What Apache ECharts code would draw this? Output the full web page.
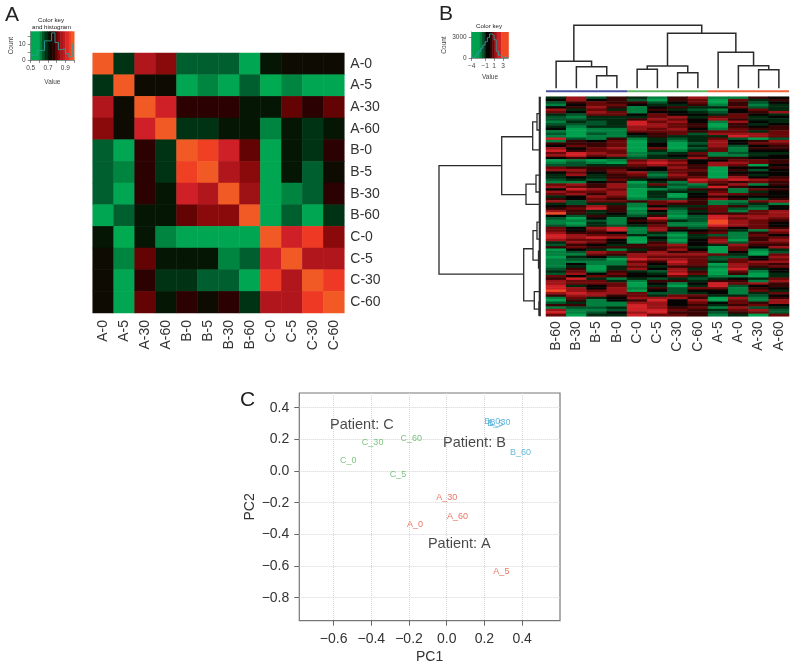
<!DOCTYPE html>
<html><head><meta charset="utf-8"><style>html,body{margin:0;padding:0;background:#fff}#c{width:800px;height:669px}</style>
<script src="https://cdn.jsdelivr.net/npm/echarts@6/dist/echarts.min.js"></script></head>
<body><div id="c"></div><script>
const FONT='"Liberation Sans",Arial,sans-serif';
// Panel A
const samplesA=['A-0','A-5','A-30','A-60','B-0','B-5','B-30','B-60','C-0','C-5','C-30','C-60'];
const corrA=[
[1,.68,.86,.82,.64,.64,.64,.55,.71,.73,.73,.73],
[.68,1,.73,.73,.55,.60,.55,.64,.53,.60,.55,.55],
[.86,.73,1,.90,.76,.76,.76,.71,.71,.79,.76,.79],
[.82,.73,.90,1,.68,.68,.71,.71,.60,.71,.68,.71],
[.64,.55,.76,.68,1,.96,.90,.79,.55,.71,.68,.76],
[.64,.60,.76,.68,.96,1,.86,.82,.55,.71,.64,.73],
[.64,.55,.76,.71,.90,.86,1,.84,.55,.60,.64,.76],
[.55,.64,.71,.71,.79,.82,.82,1,.55,.64,.55,.68],
[.71,.53,.71,.60,.55,.55,.55,.55,1,.90,.95,.82],
[.73,.60,.79,.71,.71,.71,.60,.64,.90,1,.86,.86],
[.73,.55,.76,.68,.68,.64,.64,.55,.95,.86,1,.95],
[.73,.55,.79,.71,.76,.73,.76,.68,.86,.86,.95,1]];
const paletteA=['#00b050','#00a651','#008540','#00562a','#001c06','#180000','#760404','#a81419','#d02027','#ee3a24','#f15a24'];
const keyBandsA=[[.5,.6,.55],[.6,.63,.6],[.63,.66,.65],[.66,.69,.68],[.69,.72,.71],[.72,.75,.735],[.75,.78,.76],[.78,.81,.79],[.81,.84,.82],[.84,.87,.85],[.87,.9,.88],[.9,.94,.92],[.94,.97,.96],[.97,1,1]];
const histBinsA=[.5,.54,.58,.62,.66,.7,.74,.78,.82,.86,.9,.94,.98,1];
const histCountsA=[3,3,6,6,12,12,17,11,6.5,7,4,2,10,10];
// Panel B
const columnsB=['B-60','B-30','B-5','B-0','C-0','C-5','C-30','C-60','A-5','A-0','A-30','A-60'];
// one string per gene; one digit per column: 0 = bright green ... 4 = black ... 9 = orange
const exprRows=[
'372531571154','474520560635','256552460524','146643351513','457514533623','736315321463','647614432457','326646443643','213336736634','223357647533','132386741743','222387650534','313377650545','401176741655','101166656636','202145627776','101135333876','821513236202',
'154603137457','555604027466','465604037245','746706026155','856603136144','687612361233','786713451134','454323375544','010167644665','121078747765','223367657604','655554750445','775644660524','464672650444','373561750534','343552660745','232634587876','114503176565',
'675716215715','765713128544','487601255165','766703336134','675703047654','347603045444','546512257525','726656751167','323316551231','457514336524','568507256214','753514136167','953413145567','425325028777','204148128676','112156329765','103145119764','213236118764',
'647817526465','646817445317','755413156156','876632032164','878704136156','766403047057','376405147266','254356743755','565555630647','043135740613','127657560402','116577776306','034276662247','122087762646','111165863677','141174760765','130363551756','250374730834',
'361532750614','274643860503','646544631103','583132323436','766315535517','766604148675','834603038245','874715266154','976704244163','787762234136','577563663324','163477750715','051458470617','231177464657','551187453564','122387561723','711288653672','812478552562','603386651306'];
const keyBandsB=[[-4,-2.2,0],[-2.2,-1.7,1],[-1.7,-1.2,2],[-1.2,-.8,3],[-.8,.2,4],[.2,.6,5],[.6,1,6],[1,1.6,7],[1.6,2.6,8],[2.6,4.2,9]];
const histBinsB=[-4,-3.5,-3,-2.5,-2,-1.5,-1,-.5,0,.5,1,1.5,2,2.5,3,3.5,4.2];
const histCountsB=[50,250,600,1000,1450,1900,2400,3000,3550,3400,2700,1000,400,150,60,30,30];
const paletteB=['#00a04e','#007f3e','#00552a','#002a10','#060503','#380404','#680808','#9a1316','#cf2026','#f04a24'];
// [x of left child, x of right child, height, height of left child, height of right child]
const topDendro=[[2,3,38,0,0],[1,2.5,65,0,38],[0,1.75,81,0,65],[4,5,57,0,0],[6,7,47,0,0],[4.5,6.5,67,57,47],[10,11,56,0,0],[9,10.5,68,0,56],[8,9.75,108,0,68],[5.5,8.875,165,67,108],[.875,7.19,189,81,165]];
// [height, row of upper child, row of lower child, height of upper child, height of lower child]
const leftDendro=[[102,28.6,73.5,39.3,17.3],[39.3,16.6,40.6,8.3,15],[8.3,10.4,22,4,1.2],[4,7,13.8,1.2,1.2],[15,36.2,44.6,5,1.2],[5,32.5,39.5,1.2,1.2],[17.3,63,84.6,8,6.7],[8,55.5,67.7,4,2.5],[4,52,59,1.2,1.2],[2.5,64,71,1.2,1.2],[6.7,80.8,88,1.2,2],[2,85,90.5,1.2,1.2]];
const leftSpine=[[1.2,0,91,1.2,1.2]];
const groupBar=[[-.5,3.5,-9,'#4a52a0'],[3.5,7.5,-9,'#5cb860'],[7.5,11.5,-9,'#f0643c']];
// Panel C
const pointsA=[['A_0',-.168,-.339],['A_5',.29,-.636],['A_30',0,-.168],['A_60',.057,-.288]];
const pointsB=[['B_0',.242,.316],['B_5',.257,.299],['B_30',.283,.307],['B_60',.391,.114]];
const pointsC=[['C_0',-.522,.067],['C_5',-.258,-.019],['C_30',-.393,.179],['C_60',-.188,.204]];
const patientLabels=[['Patient: A',.067,-.463],['Patient: B',.147,.175],['Patient: C',-.45,.293]];
const ticksPC1=[-.6,-.4,-.2,0,.2,.4];
const ticksPC2=[-.8,-.6,-.4,-.2,0,.2,.4];

const box=(l,t,r,b)=>({left:l,top:t,width:r-l,height:b-t,containLabel:false});
const hidden={show:false};
const grids=[box(92.7,53,344.3,313),box(30.7,31.3,74,60),box(546,25.3,789,92.3),box(438,96.7,541,316.3),box(546,96.7,789,316.3),box(471.7,32,508.3,58),
 Object.assign(box(299.3,393,560,620.7),{show:true,borderColor:'#777',borderWidth:1.2})];
const catLabel={fontFamily:FONT,fontSize:14,color:'#333',interval:0};
const keyAxis=(grid,min,max,ticks,name,gap)=>({type:'value',gridIndex:grid,min,max,name,nameLocation:'middle',nameGap:gap,
 nameTextStyle:{fontFamily:FONT,fontSize:6.5,color:'#444'},splitLine:hidden,
 axisLine:{show:true,onZero:false,lineStyle:{color:'#444',width:.6}},axisTick:{length:3,lineStyle:{color:'#444',width:.6},customValues:ticks},
 axisLabel:{fontFamily:FONT,fontSize:6.5,color:'#444',margin:5,customValues:ticks,formatter:v=>String(v).replace('-','\u2212')}});
const xAxes=[
 {type:'category',gridIndex:0,data:samplesA,axisLine:hidden,axisTick:hidden,axisLabel:{...catLabel,rotate:90,margin:7}},
 Object.assign(keyAxis(1,.5,1,[.5,.7,.9],'Value',19),{axisLabel:{fontFamily:FONT,fontSize:6.5,color:'#444',margin:5,customValues:[.5,.7,.9],formatter:v=>v.toFixed(1)},axisTick:{length:3,lineStyle:{color:'#444',width:.6},customValues:[.5,.6,.7,.8,.9,1]}}),
 {type:'value',gridIndex:2,min:-.5,max:11.5,show:false},
 {type:'value',gridIndex:3,min:0,max:103,inverse:true,show:false},
 {type:'category',gridIndex:4,data:columnsB,axisLine:hidden,axisTick:hidden,axisLabel:{...catLabel,rotate:90,margin:5}},
 keyAxis(5,-4,4.2,[-4,-1,1,3],'Value',16),
 {type:'value',gridIndex:6,min:-.782,max:.601,name:'PC1',nameLocation:'middle',nameGap:29,nameTextStyle:{fontFamily:FONT,fontSize:14,color:'#333'},
  splitLine:{show:true,lineStyle:{type:'dotted',color:'#d4d4d4',width:1}},axisLine:{show:false,onZero:false},
  axisTick:{length:5,lineStyle:{color:'#666'},customValues:ticksPC1},
  axisLabel:{fontFamily:FONT,fontSize:14,color:'#333',margin:11,customValues:ticksPC1,formatter:v=>v.toFixed(1).replace('-','\u2212')}}
];
const yAxes=[
 {type:'category',gridIndex:0,data:samplesA,inverse:true,position:'right',axisLine:hidden,axisTick:hidden,axisLabel:{...catLabel,margin:6}},
 Object.assign(keyAxis(1,0,18,[0,10],'Count',15),{axisTick:{length:3,lineStyle:{color:'#444',width:.6},customValues:[0,5,10,15]}}),
 {type:'value',gridIndex:2,min:-12,max:189,show:false},
 {type:'value',gridIndex:3,min:0,max:91,inverse:true,show:false},
 {type:'category',gridIndex:4,data:exprRows.map((_,i)=>'g'+i),inverse:true,show:false},
 keyAxis(5,0,3840,[0,3000],'Count',24),
 {type:'value',gridIndex:6,min:-.945,max:.493,name:'PC2',nameLocation:'middle',nameGap:42,nameTextStyle:{fontFamily:FONT,fontSize:14,color:'#333'},
  splitLine:{show:true,lineStyle:{type:'dotted',color:'#d4d4d4',width:1}},axisLine:{show:false,onZero:false},
  axisTick:{length:5,lineStyle:{color:'#666'},customValues:ticksPC2},
  axisLabel:{fontFamily:FONT,fontSize:14,color:'#333',margin:10,customValues:ticksPC2,formatter:v=>v.toFixed(1).replace('-','\u2212')}}
];
const keyRect=(p,api)=>{const a=api.coord([api.value(0),0]),b=api.coord([api.value(1),0]);
 return {type:'rect',shape:{x:a[0],y:p.coordSys.y,width:b[0]-a[0]+.5,height:p.coordSys.height},style:{fill:api.visual('color')}};};
const heat=(i,data)=>({type:'heatmap',xAxisIndex:i,yAxisIndex:i,data,progressive:0,itemStyle:{borderWidth:0},emphasis:{disabled:true},silent:true});
const keySeries=(i,data)=>({type:'custom',xAxisIndex:i,yAxisIndex:i,data,renderItem:keyRect,encode:{x:[0,1]},silent:true,z:1});
const histLine=(i,bins,counts)=>({type:'line',xAxisIndex:i,yAxisIndex:i,step:'end',showSymbol:false,silent:true,z:3,
 lineStyle:{color:'#2c9c9a',width:.9},data:bins.map((b,j)=>[b,counts[j]])});
const poly=(pts,w)=>({type:'polyline',shape:{points:pts},style:{fill:null,stroke:'#2b2b2b',lineWidth:w}});
const topSeries={type:'custom',xAxisIndex:2,yAxisIndex:2,data:topDendro,encode:{x:[0,1],y:[2,3,4]},silent:true,
 renderItem:(p,api)=>poly([[api.value(0),api.value(3)],[api.value(0),api.value(2)],[api.value(1),api.value(2)],[api.value(1),api.value(4)]].map(v=>api.coord(v)),1.5)};
const leftSeries=(data,w)=>({type:'custom',xAxisIndex:3,yAxisIndex:3,data,encode:{x:[0,3,4],y:[1,2]},silent:true,
 renderItem:(p,api)=>poly([[api.value(3),api.value(1)],[api.value(0),api.value(1)],[api.value(0),api.value(2)],[api.value(4),api.value(2)]].map(v=>api.coord(v)),w)});
const barSeries={type:'custom',xAxisIndex:2,yAxisIndex:2,data:groupBar.map(g=>g.slice(0,3)),encode:{x:[0,1],y:2},silent:true,
 renderItem:(p,api)=>{const a=api.coord([api.value(0),api.value(2)]),b=api.coord([api.value(1),api.value(2)]);
  return {type:'line',shape:{x1:a[0],y1:a[1],x2:b[0],y2:b[1]},style:{stroke:groupBar[p.dataIndex][3],lineWidth:2}};}};
const textSeries=(pts,color,size)=>({type:'scatter',xAxisIndex:6,yAxisIndex:6,symbolSize:0,silent:true,clip:false,
 data:pts.map(p=>({value:[p[1],p[2]],name:p[0]})),
 label:{show:true,position:'inside',formatter:'{b}',fontFamily:FONT,fontSize:size,color}});
const cellsA=[];corrA.forEach((r,y)=>r.forEach((v,x)=>cellsA.push([x,y,v])));
const cellsB=[];exprRows.forEach((r,y)=>r.split('').forEach((c,x)=>cellsB.push([x,y,+c])));
const txt=(text,x,y,size,align,color)=>({type:'text',left:x,top:y,style:{text,fontFamily:FONT,fontSize:size,fill:color||'#222',align:align||'left'}});
const chart=echarts.init(document.getElementById('c'),null,{renderer:'canvas'});
chart.setOption({animation:false,backgroundColor:'#fff',grid:grids,xAxis:xAxes,yAxis:yAxes,
 visualMap:[
  {show:false,type:'continuous',min:.5,max:1,dimension:2,seriesIndex:[0,1],inRange:{color:paletteA}},
  {show:false,type:'continuous',min:0,max:9,dimension:2,seriesIndex:[3,4],inRange:{color:paletteB}}],
 series:[heat(0,cellsA),keySeries(1,keyBandsA),histLine(1,histBinsA,histCountsA),
  heat(4,cellsB),keySeries(5,keyBandsB),histLine(5,histBinsB,histCountsB),
  topSeries,barSeries,leftSeries(leftDendro,1.3),leftSeries(leftSpine,2.2),
  textSeries(pointsA,'#e4513a',9),textSeries(pointsB,'#3ea6d4',9),textSeries(pointsC,'#58b55f',9),textSeries(patientLabels,'#1a1a1a',14.5)],
 graphic:[txt('A',5,5,21),txt('B',439,4,21),txt('C',240,390,21),
  txt('Color key',38,17.5,6.2),txt('and histogram',32,24.5,6.2),txt('Color key',476,23.5,6.2)]
});
</script></body></html>
